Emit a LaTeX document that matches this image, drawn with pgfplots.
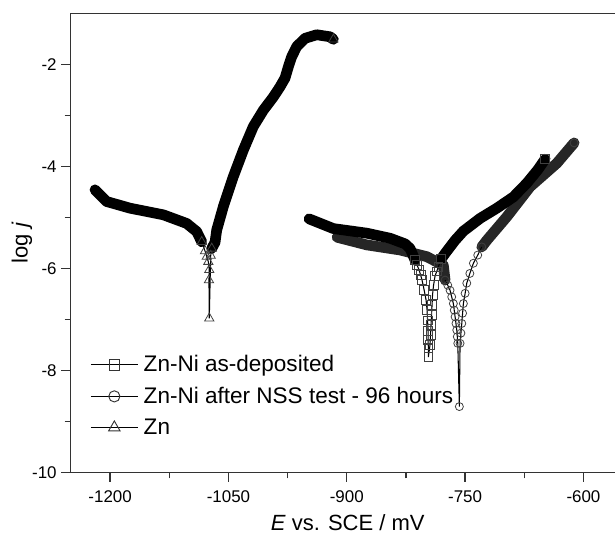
\documentclass[border=0pt]{standalone}
\usepackage{fontspec}
\setmainfont{Liberation Sans}
\usepackage{pgfplots}
\pgfplotsset{compat=1.18}
\usetikzlibrary{calc}

% thick band = the densely packed markers; dip = markers seen one by one
\pgfplotsset{
  band/.style={black, line width=8pt, line join=round, line cap=round, mark=none, forget plot},
  dip/.style={black, line width=0.8pt, mark options={solid, fill=white, draw=black!75, line width=0.6pt}, forget plot},
}

\begin{document}
\begin{tikzpicture}
\begin{axis}[
  scale only axis, width=408.2pt, height=344.25pt,
  xmin=-1250, xmax=-560, ymin=-10, ymax=-1,
  axis x line*=bottom, axis y line*=left,
  axis line style={black!80, line width=1.1pt, -},
  xtick={-1200,-1050,-900,-750,-600},
  ytick={-10,-8,-6,-4,-2},
  minor x tick num=1, minor y tick num=1,
  tick align=outside,
  major tick length=7pt, minor tick length=4.5pt,
  tick style={black!80, line width=1pt},
  /pgf/number format/assume math mode=true,
  /pgf/number format/1000 sep={},
  ticklabel style={font=\fontsize{12.7}{15}\selectfont},
  xticklabel style={yshift=-3pt},
  xlabel={\textit{E} vs. SCE / mV},
  ylabel={log \textit{j}},
  label style={font=\fontsize{16.5}{20}\selectfont},
  xlabel style={at={(axis description cs:0.509,-0.1257)}, anchor=base},
  ylabel style={at={(axis description cs:-0.0895,0.5)}, anchor=center},
  legend style={at={(axis description cs:0.0355,0.258)}, anchor=north west,
    draw=none, fill=none, inner sep=0pt, row sep=8pt,
    font=\fontsize{16.9}{20}\selectfont, nodes={inner sep=1pt},
    column sep=3pt},
  legend cell align=left,
  legend image code/.code={\draw[mark repeat=2,mark phase=2,#1]
    plot coordinates {(0pt,0pt) (17.6pt,0pt) (35.2pt,0pt)};},
]
\coordinate (ll) at (rel axis cs:0,0);
\coordinate (ur) at (rel axis cs:1,1);
\draw[black!80, line width=1.1pt] (rel axis cs:0,1) -- (rel axis cs:1,1);

% legend
\addlegendimage{black, line width=0.9pt, mark=square, mark size=4pt, mark options={fill=white, draw=black!80, line width=0.7pt}}
\addlegendentry{Zn-Ni as-deposited}
\addlegendimage{black, line width=0.9pt, mark=o, mark size=4.2pt, mark options={fill=white, draw=black!80, line width=0.7pt}}
\addlegendentry{Zn-Ni after NSS test - 96 hours}
\addlegendimage{black, line width=0.9pt, mark=triangle, mark size=5pt, mark options={fill=white, draw=black!80, line width=0.7pt}}
\addlegendentry{Zn}

% ---- Zn-Ni after NSS test (circles)
\addplot[band, black!85] coordinates {
  (-912.3,-5.39) (-874.7,-5.54) (-832.5,-5.64) (-798.7,-5.77) (-777.6,-5.94) (-775.4,-6.23)
};
\addplot[band, black!85] coordinates {
  (-728.9,-5.58) (-722.5,-5.45) (-697.2,-4.99) (-667.6,-4.40) (-633.8,-3.94) (-611.8,-3.54)
};
% ---- Zn-Ni as-deposited (squares)
\addplot[band] coordinates {
  (-947.8,-5.03) (-917.0,-5.22) (-874.7,-5.31) (-845.1,-5.41) (-826.1,-5.52) (-819.8,-5.61) (-813.4,-5.84)
};
\addplot[band] coordinates {
  (-780.5,-5.82) (-775.5,-5.71) (-762.7,-5.45) (-752.2,-5.27) (-731.0,-5.02)
  (-709.8,-4.82) (-688.8,-4.60) (-671.8,-4.33) (-658.0,-4.07) (-648.6,-3.86)
};
\addplot[dip, mark=square, mark size=3.3pt] coordinates {
  (-813.4,-5.84) (-810.8,-5.94) (-808.4,-6.03) (-806.4,-6.13) (-804.6,-6.23) (-802.0,-6.42)
  (-799.5,-6.62) (-798.2,-6.82)
  (-797.6,-7.02) (-796.9,-7.22) (-796.9,-7.41) (-796.6,-7.56) (-796.6,-7.74)
  (-794.5,-7.50) (-793.8,-7.30) (-793.2,-7.11) (-792.6,-6.92) (-791.9,-6.72) (-791.3,-6.52)
  (-790.0,-6.33) (-788.1,-6.15) (-786.0,-6.06) (-783.9,-5.97) (-780.5,-5.82)
};
\addplot[dip, mark=o, mark size=3pt] coordinates {
  (-775.4,-6.23) (-772.0,-6.33) (-769.1,-6.43) (-767.0,-6.56) (-764.9,-6.69) (-763.8,-6.82)
  (-762.7,-6.95) (-761.6,-7.08) (-760.6,-7.21) (-759.9,-7.34) (-759.3,-7.47)
  (-757.3,-8.71)
  (-756.4,-7.47) (-755.3,-7.27) (-754.2,-7.08) (-753.2,-6.88) (-752.2,-6.69) (-750.0,-6.49)
  (-747.9,-6.29) (-744.0,-6.10) (-739.5,-5.90) (-734.0,-5.74) (-728.9,-5.58)
};
\addplot[only marks, mark=square, mark size=3.3pt, mark options={fill=white, draw=black!75, line width=0.6pt}, forget plot]
  coordinates {(-648.6,-3.86)};
\addplot[only marks, mark=o, mark size=3pt, mark options={fill=white, draw=black!75, line width=0.6pt}, forget plot]
  coordinates {(-611.8,-3.54)};

% ---- Zn (triangles)
\addplot[band] coordinates {
  (-1219.2,-4.46) (-1204.4,-4.69) (-1174.8,-4.82) (-1132.6,-4.95) (-1102.9,-5.12)
  (-1090.2,-5.28) (-1083.9,-5.48)
};
\addplot[band] coordinates {
  (-1071.2,-5.61) (-1067.0,-5.49) (-1064.9,-5.25) (-1056.5,-4.79) (-1043.8,-4.20)
  (-1031.1,-3.68) (-1018.5,-3.22) (-1005.8,-2.90) (-993.1,-2.64) (-984.6,-2.44)
  (-978.3,-2.27) (-974.1,-2.05) (-969.8,-1.85) (-963.4,-1.65) (-952.9,-1.49)
  (-938.1,-1.42) (-921.2,-1.46) (-917.0,-1.51)
};
\addplot[dip, mark=triangle, mark size=4pt] coordinates {
  (-1083.9,-5.48) (-1079.7,-5.66) (-1077.5,-5.77) (-1075.5,-5.87) (-1074.3,-6.03)
  (-1074.7,-6.23) (-1074.3,-6.98) (-1072.5,-5.75) (-1071.2,-5.61)
};
\addplot[only marks, mark=triangle, mark size=4pt, mark options={fill=white, draw=black!75, line width=0.6pt}, forget plot]
  coordinates {(-917.0,-1.51)};
\end{axis}
\pgfresetboundingbox
\path ($(ll)+(-53pt,-52.3pt)$) rectangle ($(ur)+(0pt,10pt)$);
\end{tikzpicture}
\end{document}
